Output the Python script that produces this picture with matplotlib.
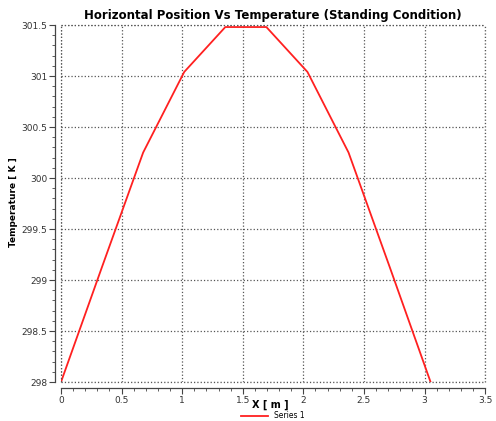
import matplotlib
matplotlib.use("Agg")
import matplotlib.pyplot as plt
from matplotlib.ticker import MultipleLocator

# positions along the stand (m) and temperature (K)
x_pos = [0.0, 0.339, 0.678, 1.017, 1.356, 1.695, 2.034, 2.373, 2.712, 3.05]
temp = [298.0, 299.13, 300.25, 301.04, 301.48, 301.48, 301.04, 300.25, 299.13, 298.0]

x_ticks = [0, 0.5, 1, 1.5, 2, 2.5, 3, 3.5]
y_ticks = [298, 298.5, 299, 299.5, 300, 300.5, 301, 301.5]

fig = plt.figure(figsize=(4.96, 4.21), dpi=100)
ax = fig.add_axes([0.123, 0.0926, 0.855, 0.848])

ax.plot(x_pos, temp, color="#ff2020", linewidth=1.3, label="Series 1")

ax.set_xlim(0, 3.5)
ax.set_ylim(298, 301.5)
ax.set_xticks(x_ticks)
ax.set_yticks(y_ticks)
ax.set_xticklabels([f"{t:g}" for t in x_ticks])
ax.set_yticklabels([f"{t:g}" for t in y_ticks])
ax.xaxis.set_minor_locator(MultipleLocator(0.1))
ax.yaxis.set_minor_locator(MultipleLocator(0.1))

grid_kw = dict(linestyle=":", color="#555555", linewidth=0.9)
ax.grid(True, which="major", **grid_kw)
for s in ["top", "right"]:
    ax.spines[s].set_visible(False)
ax.spines["left"].set_position(("outward", 4))
ax.spines["bottom"].set_position(("outward", 4))
for s in ["left", "bottom"]:
    ax.spines[s].set_color("#444444")
    ax.spines[s].set_linewidth(0.9)

# boundary gridlines (grid at the limits gets clipped)
ax.axvline(3.5, clip_on=False, **grid_kw)
ax.axhline(301.5, clip_on=False, **grid_kw)
ax.axvline(0, clip_on=False, **grid_kw)
ax.axhline(298, clip_on=False, **grid_kw)

ax.tick_params(which="major", length=4, pad=2, labelsize=6.5, colors="#444444", labelcolor="#333333")
ax.tick_params(which="minor", length=2, colors="#444444")

ax.set_title("Horizontal Position Vs Temperature (Standing Condition)",
             fontsize=8.5, fontweight="bold", pad=4)
fig.text(0.544, 0.038, "X [ m ]", fontsize=7, fontweight="bold", ha="center", va="center")
fig.text(0.028, 0.52, "Temperature [ K ]", fontsize=6.5, fontweight="bold",
         rotation=90, ha="center", va="center")

fig.legend(loc="center", bbox_to_anchor=(0.55, 0.012), fontsize=5.5,
           frameon=False, handlelength=3.5, borderpad=0, handletextpad=0.8)

fig.savefig("out.png", dpi=100)
